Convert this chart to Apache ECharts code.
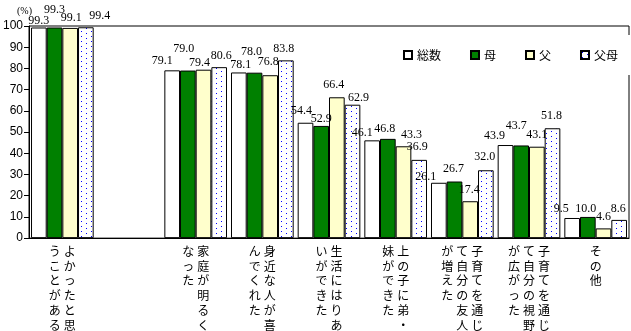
<!DOCTYPE html>
<html>
<head>
<meta charset="utf-8">
<script src="https://cdn.jsdelivr.net/npm/echarts@6/dist/echarts.min.js"></script>
<style>
  html, body { margin: 0; padding: 0; background: #fff; }
  #chart { width: 631px; height: 331px; }
</style>
</head>
<body>
<div id="chart"></div>
<script>
  // 項目（空の項目は1つ目と2つ目の間のすき間）
  var categories = ['よかったと思うことがある', '', '家庭が明るくなった', '身近な人が喜んでくれた',
    '生活にはりあいができた', '上の子に弟・妹ができた', '子育てを通じて自分の友人が増えた',
    '子育てを通じて自分の視野が広がった', 'その他'];
  var seriesNames = ['総数', '母', '父', '父母'];
  var total   = [99.3, null, 79.1, 78.1, 54.4, 46.1, 26.1, 43.9, 9.5];
  var mother  = [99.3, null, 79.0, 78.0, 52.9, 46.8, 26.7, 43.7, 10.0];
  var father  = [99.1, null, 79.4, 76.8, 66.4, 43.3, 17.4, 43.1, 4.6];
  var parents = [99.4, null, 80.6, 83.8, 62.9, 36.9, 32.0, 51.8, 8.6];
  var yTicks = [0, 100, 10]; // min, max, interval

  // ラベルのずらし（元の図で重なりを避けて置かれている位置）
  var labelShift = [
    [[0, 4], null, [-10, 2], [2, 3], [-4, -1], [-10, 3], [-13, 5], [-11, 2], [-11, 2]],
    [[0, -7], null, [-4, -11], [-3, -10], [0, 4], [-3, 1], [-1, -2], [-5, -9], [-2, 3]],
    [[1, 1], null, [-4, 4], [-2, -2], [-3, -1], [8, 0], [-1, 0], [0, -1], [0, -1]],
    [[14, 0], null, [2, 0], [-2, -1], [6, 4], [-2, -2], [-1, -2], [-1, -1], [-1, 0]]
  ];

  // 父母の点模様
  function dotPattern() {
    var c = document.createElement('canvas');
    c.width = 10; c.height = 5;
    var ctx = c.getContext('2d');
    ctx.fillStyle = '#fff';
    ctx.fillRect(0, 0, 10, 5);
    ctx.fillStyle = '#0000ff';
    ctx.fillRect(1, 1, 1, 1);
    ctx.fillRect(6, 3, 1, 1);
    return { image: c, repeat: 'repeat' };
  }

  // 縦書きラベル（6文字ごとに右から左へ列を並べる）
  function verticalLabel(text) {
    if (!text) return '';
    var cols = [];
    for (var i = 0; i < text.length; i += 6) cols.push(text.substr(i, 6));
    cols.reverse();
    var rows = [];
    for (var r = 0; r < Math.min(6, text.length); r++) {
      var row = '';
      for (var k = 0; k < cols.length; k++) {
        var ch = cols[k].charAt(r) || '\u3000';
        row += '{c|' + ch + '}';
      }
      rows.push(row);
    }
    return rows.join('\n');
  }

  var fills = ['#ffffff', '#008000', '#ffffcc', dotPattern()];
  var values = [total, mother, father, parents];

  var series = values.map(function (arr, si) {
    return {
      name: seriesNames[si],
      type: 'bar',
      barGap: '0%',
      barCategoryGap: '6%',
      itemStyle: { color: fills[si], borderColor: '#000', borderWidth: 1 },
      label: {
        show: true,
        position: 'top',
        distance: 5,
        color: '#000',
        fontSize: 12,
        lineHeight: 12,
        fontFamily: 'Liberation Serif',
        formatter: function (p) { return p.value == null ? '' : p.value.toFixed(1); }
      },
      data: arr.map(function (v, i) {
        if (v == null) return null;
        return { value: v, label: { offset: labelShift[si][i] } };
      })
    };
  });

  var chart = echarts.init(document.getElementById('chart'));
  chart.setOption({
    animation: false,
    title: {
      text: '(%)',
      left: 12,
      top: 1,
      textStyle: { fontSize: 10, fontWeight: 'normal', color: '#000', fontFamily: 'Liberation Serif' }
    },
    legend: {
      data: seriesNames,
      right: 0,
      top: 35,
      padding: [14, 13, 14, 10],
      backgroundColor: '#fff',
      icon: 'rect',
      itemWidth: 8,
      itemHeight: 8,
      itemGap: 29,
      textStyle: { fontSize: 12, color: '#000', fontFamily: 'Noto Sans CJK JP' }
    },
    grid: {
      left: 28,
      right: 2,
      top: 26,
      bottom: 92,
      show: true,
      borderColor: '#000',
      borderWidth: 1
    },
    xAxis: {
      type: 'category',
      data: categories,
      axisLine: { lineStyle: { color: '#000' } },
      axisTick: { show: false },
      axisLabel: {
        interval: 0,
        margin: 6,
        color: '#000',
        formatter: verticalLabel,
        rich: {
          c: { width: 15, align: 'center', fontSize: 12, lineHeight: 14.7, fontFamily: 'Noto Sans CJK JP', color: '#000' }
        }
      }
    },
    yAxis: {
      type: 'value',
      min: yTicks[0],
      max: yTicks[1],
      interval: yTicks[2],
      splitLine: { show: false },
      axisLine: { show: true, lineStyle: { color: '#000' } },
      axisTick: { show: true, length: 5, lineStyle: { color: '#000' } },
      axisLabel: { margin: 6, color: '#000', fontSize: 12, fontFamily: 'Liberation Sans' }
    },
    series: series
  });
</script>
</body>
</html>
